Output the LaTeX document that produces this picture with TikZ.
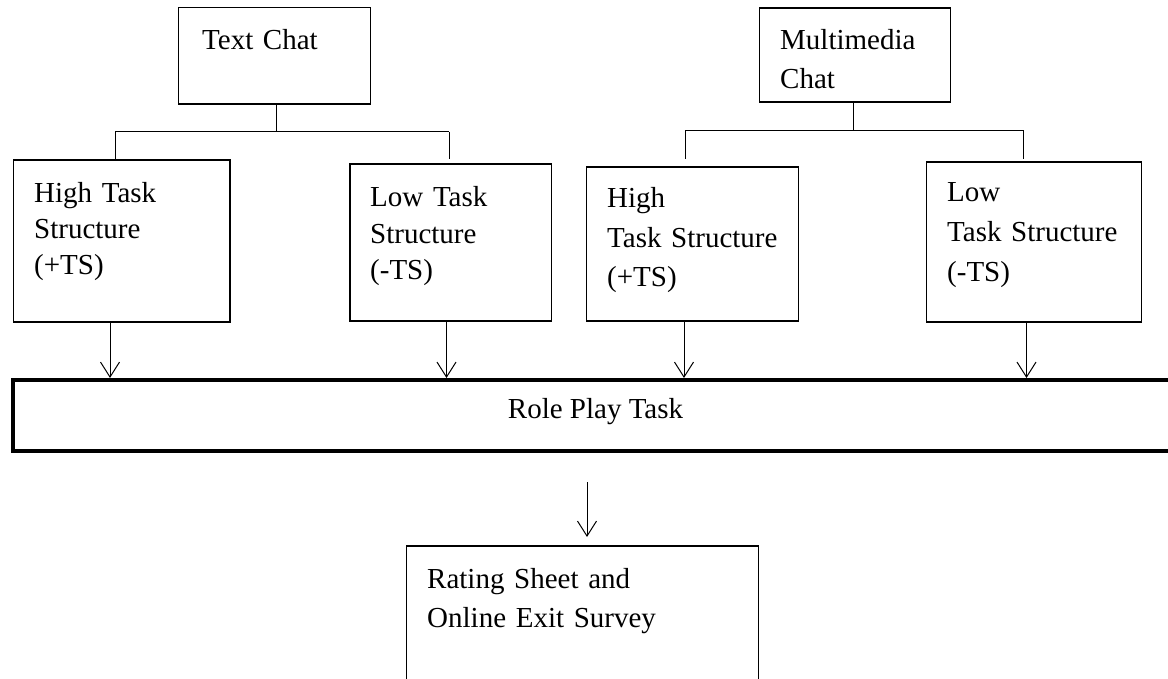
\documentclass[tikz,border=0pt]{standalone}
\usepackage{fontspec}
\setmainfont{Liberation Serif}
\usetikzlibrary{arrows.meta}
\begin{document}
\begin{tikzpicture}[x=1pt,y=-1pt,
  box/.style={draw,line width=1.3pt,inner sep=0pt},
  conn/.style={line width=1pt},
  arr/.style={line width=1pt,-{Straight Barb[length=15pt,width=19pt,line width=1pt]}},
  txt/.style={inner sep=0pt,anchor=base west,align=left,text width=260pt,font=\fontsize{29}{#1}\selectfont},
  txt/.default=37pt]
\clip (0,0) rectangle (1168,679);
\fill[white] (0,0) rectangle (1168,679);
% boxes
\node[box,minimum width=192pt,minimum height=96.7pt] (tc) at (274.6,55.7) {};
\node[box,minimum width=191pt,minimum height=94pt] (mc) at (855.3,55) {};
\node[box,minimum width=216.8pt,minimum height=162pt] (h1) at (121.6,241) {};
\node[box,minimum width=201.8pt,minimum height=157pt] (l1) at (450.9,242.5) {};
\node[box,minimum width=212pt,minimum height=154pt] (h2) at (692.5,244) {};
\node[box,minimum width=215pt,minimum height=160pt] (l2) at (1034,242) {};
\node[draw,line width=4pt,inner sep=0pt,minimum width=1180pt,minimum height=71pt] (rp) at (603,415.5) {};
\node[box,minimum width=351.6pt,minimum height=160pt] (rs) at (582.5,626) {};
% texts
\node[txt] (ttc) at (202,50) {Text Chat};
\node[txt=39pt] (tmc) at (780,50) {Multimedia\\Chat};
\node[txt=36pt] (th1) at (34,203) {High Task\\Structure\\(+TS)};
\node[txt=36.5pt] (tl1) at (370,207) {Low Task\\Structure\\(-TS)};
\node[txt=39.5pt] (th2) at (607,208) {High\\Task Structure\\(+TS)};
\node[txt=40pt] (tl2) at (947,202) {Low\\Task Structure\\(-TS)};
\node[inner sep=0pt,anchor=base,font=\fontsize{29}{37}\selectfont] (trp) at (595.5,418) {Role Play Task};
\node[txt=39pt] (trs) at (427,588) {Rating Sheet and\\Online Exit Survey};
% tree 1
\coordinate (j1) at (276,132);
\coordinate (j1l) at (115,132);
\coordinate (j1r) at (449,132);
\coordinate (d1l) at (115,159);
\coordinate (d1r) at (449,159);
\draw[conn] (tc.south -| j1) -- (j1);
\draw[conn] (j1l) -- (j1r);
\draw[conn] (j1l) -- (d1l);
\draw[conn] (j1r) -- (d1r);
% tree 2
\coordinate (j2) at (853.5,131);
\coordinate (j2l) at (685,131);
\coordinate (j2r) at (1023.7,131);
\coordinate (d2l) at (685,159);
\coordinate (d2r) at (1023.7,159);
\draw[conn] (mc.south -| j2) -- (j2);
\draw[conn] (j2l) -- (j2r);
\draw[conn] (j2l) -- (d2l);
\draw[conn] (j2r) -- (d2r);
% arrows to role play
\coordinate (a1) at (110,378);
\coordinate (a2) at (446.5,378);
\coordinate (a3) at (684,378);
\coordinate (a4) at (1026.5,378);
\draw[arr] (h1.south -| a1) -- (a1);
\draw[arr] (l1.south -| a2) -- (a2);
\draw[arr] (h2.south -| a3) -- (a3);
\draw[arr] (l2.south -| a4) -- (a4);
% arrow to rating sheet
\coordinate (a5s) at (587,482);
\coordinate (a5) at (587,537);
\draw[arr] (a5s) -- (a5);
\end{tikzpicture}
\end{document}
